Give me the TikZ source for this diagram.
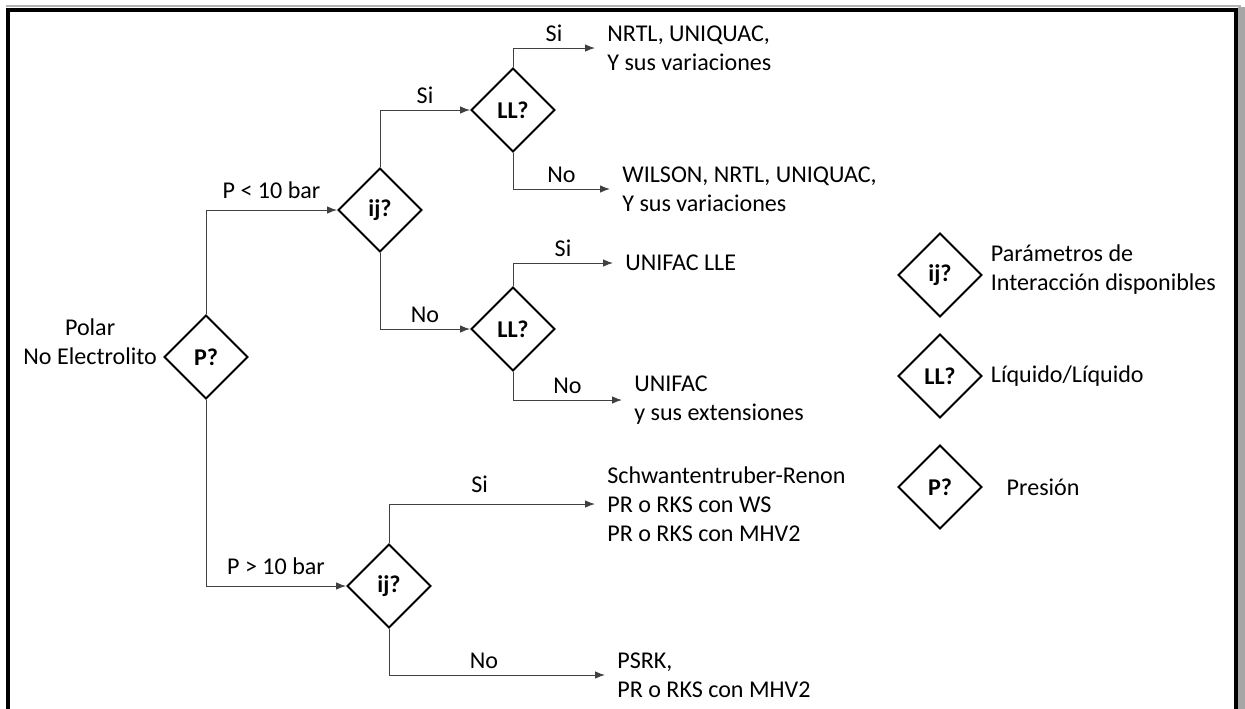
\documentclass[tikz,border=0pt]{standalone}
\usepackage{fontspec}
\setmainfont{Carlito}
\usetikzlibrary{arrows.meta,positioning,shapes.geometric}

\begin{document}
\begin{tikzpicture}[x=0.02cm, y=-0.02cm,
  font=\fontsize{13.7}{16.5}\selectfont,
  dec/.style={diamond, draw, line width=1.1pt, minimum size=1.68cm, inner sep=0pt, font=\fontsize{13.7}{16.5}\selectfont\bfseries},
  res/.style={anchor=west, align=left, inner xsep=0.24cm, inner ysep=0pt},
  arr/.style={-{Latex[length=2mm, width=1.5mm]}, draw=black!75, line width=0.55pt}]
  \useasboundingbox (0,0) rectangle (1245,708);
  % frame
  \draw[black!30, line width=0.04cm] (6,6) -- (1241,6);
  \draw[black!35, line width=0.14cm] (1241,7) -- (1241,720);
  \draw[line width=0.08cm] (8,730) -- (8,10) -- (1236,10) -- (1236,730);

  % decisions
  \node[dec] (P) at (206,357) {P?};
  \node[dec] (ij1) at (380,210) {ij?};
  \node[dec] (ij2) at (389,586) {ij?};
  \node[dec] (LL1) at (513,110) {LL?};
  \node[dec] (LL2) at (513,329) {LL?};
  \node[left=0pt of P, yshift=0.3cm, align=center] (polar) {Polar\\No Electrolito};

  % results
  \node[res] (o1) at (595,48) {NRTL, UNIQUAC,\\Y sus variaciones};
  \node[res] (o2) at (610,189) {WILSON, NRTL, UNIQUAC,\\Y sus variaciones};
  \node[res] (o3) at (613,263) {UNIFAC LLE};
  \node[res] (o4) at (622,400) {UNIFAC\\y sus extensiones};
  \node[res] (o5) at (595,504) {Schwantentruber-Renon\\PR o RKS con WS\\PR o RKS con MHV2};
  \node[res] (o6) at (605,675) {PSRK,\\PR o RKS con MHV2};

  \draw[arr] (P.north) |- node[pos=.75, above=3pt]{P < 10 bar} (ij1.west);
  \draw[arr] (P.south) |- node[pos=.75, above=3pt]{P > 10 bar} (ij2.west);
  \draw[arr] (ij1.north) |- node[pos=.75, above]{Si} (LL1.west);
  \draw[arr] (ij1.south) |- node[pos=.75, above]{No} (LL2.west);
  \draw[arr] (LL1.north) |- node[pos=.75, above]{Si} (o1.west);
  \draw[arr] (LL1.south) |- node[pos=.75, above]{No} (o2.west);
  \draw[arr] (LL2.north) |- node[pos=.75, above]{Si} (o3.west);
  \draw[arr] (LL2.south) |- node[pos=.75, above]{No} (o4.west);
  \draw[arr] (ij2.north) |- node[pos=.72, above=3pt]{Si} (o5.west);
  \draw[arr] (ij2.south) |- node[pos=.72, above]{No} (o6.west);

  % legend
  \node[dec] (kij) at (940,275) {ij?};
  \node[dec] (kLL) at (940,376) {LL?};
  \node[dec] (kP) at (940,487) {P?};
  \node[right=1pt of kij, align=left, yshift=0.1cm] (tij) {Parámetros de\\Interacción disponibles};
  \node[right=1pt of kLL] (tLL) {Líquido/Líquido};
  \node[right=10pt of kP] (tP) {Presión};
\end{tikzpicture}
\end{document}
